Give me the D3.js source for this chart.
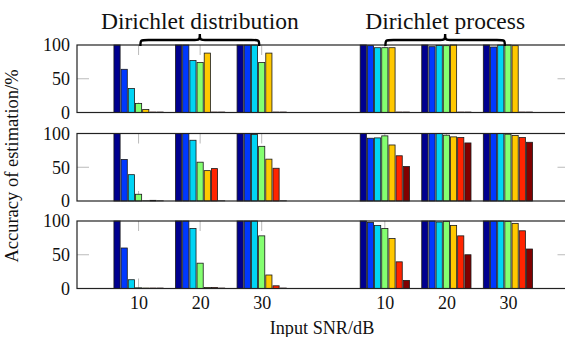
<!DOCTYPE html>
<html>
<head>
<meta charset="utf-8">
<script src="https://cdn.jsdelivr.net/npm/d3@7"></script>
<style>
body { margin: 0; background: #fff; }
svg { font-family: "Liberation Serif", "DejaVu Serif", serif; }
</style>
</head>
<body>
<div id="chart"></div>
<script>

var width = 565,
height = 337;

// SNR groups and the two methods
var snrLabels = ["10", "20", "30"];
var methods = ["Dirichlet distribution", "Dirichlet process"];
var yTicks = [0, 50, 100];

// accuracy (%) for the 7 series in each SNR group
var topDist = [[100, 64, 35.5, 13.5, 4.5, 0, 0],
               [100, 100, 77, 74, 88, 0, 0],
               [100, 100, 100, 74, 88, 0, 0]];
var topProc = [[100, 99, 96, 96, 96, 0, 0],
               [100, 97.5, 99.5, 99, 100, 0, 0],
               [100, 97, 100, 100, 99, 0, 0]];
var midDist = [[100, 61.5, 39, 10, 0, 1, 0],
               [100, 100, 90, 57.5, 45, 48, 0],
               [100, 100, 98.5, 81, 62, 48.5, 0]];
var midProc = [[100, 93, 93.5, 96.5, 83, 67, 51],
               [100, 100, 100, 97.5, 95, 94, 86],
               [100, 100, 100, 99, 97, 94, 87]];
var botDist = [[100, 60, 13, 1, 0, 0, 0],
               [100, 100, 89, 37.5, 1.5, 1.5, 0],
               [100, 100, 100, 78, 20, 4, 0]];
var botProc = [[100, 98, 93.5, 89, 74, 39.5, 12],
               [100, 100, 98.5, 99.5, 93.5, 78, 50],
               [100, 100, 100, 99.5, 96.5, 85.5, 58.5]];

var colors = ["#00008f", "#0038ff", "#00d4f4", "#84ff70", "#ffc800", "#ff2400", "#800000"];

var panels = [
  {top: 45, dist: topDist, proc: topProc},
  {top: 133.5, dist: midDist, proc: midProc},
  {top: 221, dist: botDist, proc: botProc}
];
var panelH = 67.5;

var svg = d3.select("#chart").append("svg")
.attr("width", width)
.attr("height", height);

// slot positions: 1,2,3 for the first method, 5,6,7 for the second
var x = d3.scaleLinear()
.domain([0, 8])
.range([77, 569.5]);

var groupW = x(0.8) - x(0);
var xb = d3.scaleBand()
.domain(d3.range(7))
.range([-groupW / 2, groupW / 2])
.paddingInner(0.14);

var slots = [1, 2, 3, 5, 6, 7];

panels.forEach(function(p, pi){
  var y = d3.scaleLinear()
  .domain([0, 100])
  .range([p.top + panelH, p.top]);

  var g = svg.append("g");

  // inner gray ticks
  g.selectAll("line.xt")
  .data(slots)
  .enter().append("line")
  .attr("x1", function(d){ return x(d) })
  .attr("x2", function(d){ return x(d) })
  .attr("y1", p.top)
  .attr("y2", p.top + 10)
  .attr("stroke", "#bbb");
  g.selectAll("line.xb")
  .data(slots)
  .enter().append("line")
  .attr("x1", function(d){ return x(d) })
  .attr("x2", function(d){ return x(d) })
  .attr("y1", p.top + panelH)
  .attr("y2", p.top + panelH - 10)
  .attr("stroke", "#bbb");
  g.append("line")
  .attr("x1", x(0)).attr("x2", x(0) + 12)
  .attr("y1", y(50)).attr("y2", y(50))
  .attr("stroke", "#bbb");
  g.append("line")
  .attr("x1", x(8)).attr("x2", x(8) - 12)
  .attr("y1", y(50)).attr("y2", y(50))
  .attr("stroke", "#bbb");

  // bars
  var groups = [];
  p.dist.forEach(function(vals, i){ groups.push({slot: slots[i], vals: vals}) });
  p.proc.forEach(function(vals, i){ groups.push({slot: slots[i + 3], vals: vals}) });

  var grp = g.selectAll("g.grp")
  .data(groups)
  .enter().append("g")
  .attr("class", "grp")
  .attr("transform", function(d){ return "translate(" + x(d.slot) + ",0)" });

  grp.selectAll("rect")
  .data(function(d){ return d.vals })
  .enter().append("rect")
  .attr("x", function(d, i){ return xb(i) })
  .attr("width", xb.bandwidth())
  .attr("y", function(d){ return y(d) - (d == 0 ? 0.6 : 0) })
  .attr("height", function(d){ return Math.max(y(0) - y(d), 0.6) })
  .attr("fill", function(d, i){ return colors[i] })
  .attr("stroke", function(d){ return d == 0 ? "#777" : "#1a1a1a" })
  .attr("stroke-width", 0.8);

  // frame
  g.append("rect")
  .attr("x", x(0))
  .attr("y", p.top)
  .attr("width", x(8) - x(0))
  .attr("height", panelH)
  .attr("fill", "none")
  .attr("stroke", "#222")
  .attr("stroke-width", 1.2);

  // y labels
  var yAxis = d3.axisLeft(y)
  .tickValues(yTicks)
  .tickSize(0)
  .tickPadding(7);
  var ya = svg.append("g")
  .attr("transform", "translate(" + x(0) + ",0)")
  .call(yAxis);
  ya.select(".domain").remove();
  ya.selectAll("text")
  .attr("font-family", "Liberation Serif")
  .attr("font-size", 18)
  .attr("fill", "#111");

  if (pi == 2){
    var xAxis = d3.axisBottom(x)
    .tickValues(slots)
    .tickSize(0)
    .tickPadding(8)
    .tickFormat(function(d, i){ return snrLabels[i % 3] });
    var xa = svg.append("g")
    .attr("transform", "translate(0," + (p.top + panelH) + ")")
    .call(xAxis);
    xa.select(".domain").remove();
    xa.selectAll("text")
    .attr("font-family", "Liberation Serif")
    .attr("font-size", 18)
    .attr("fill", "#111");
  }
});

// braces over the method groups
function brace(x1, x2, yb, h){
  var mid = (x1 + x2) / 2, y1 = yb - h * 0.5, y2 = yb - h, r = 8;
  return "M" + x1 + "," + yb +
    "C" + x1 + "," + y1 + " " + x1 + "," + y1 + " " + (x1 + r) + "," + y1 +
    "L" + (mid - r) + "," + y1 +
    "C" + mid + "," + y1 + " " + mid + "," + y1 + " " + mid + "," + y2 +
    "C" + mid + "," + y1 + " " + mid + "," + y1 + " " + (mid + r) + "," + y1 +
    "L" + (x2 - r) + "," + y1 +
    "C" + x2 + "," + y1 + " " + x2 + "," + y1 + " " + x2 + "," + yb;
}

var braceSpans = [[1.03, 2.96], [5.01, 6.95]];
braceSpans.forEach(function(s, i){
  svg.append("path")
  .attr("d", brace(x(s[0]), x(s[1]), 46, 12))
  .attr("fill", "none")
  .attr("stroke", "#000")
  .attr("stroke-width", 2.4);
  svg.append("text")
  .attr("x", (x(s[0]) + x(s[1])) / 2)
  .attr("y", 28.5)
  .attr("text-anchor", "middle")
  .attr("font-size", 23.5)
  .attr("fill", "#111")
  .text(methods[i]);
});

// axis titles
svg.append("text")
.attr("transform", "translate(18," + 166 + ") rotate(-90)")
.attr("text-anchor", "middle")
.attr("font-size", 18.5)
.attr("fill", "#111")
.text("Accuracy of estimation/%");

svg.append("text")
.attr("x", 322)
.attr("y", 334)
.attr("text-anchor", "middle")
.attr("font-size", 18.2)
.attr("fill", "#111")
.text("Input SNR/dB");

</script>
</body>
</html>
